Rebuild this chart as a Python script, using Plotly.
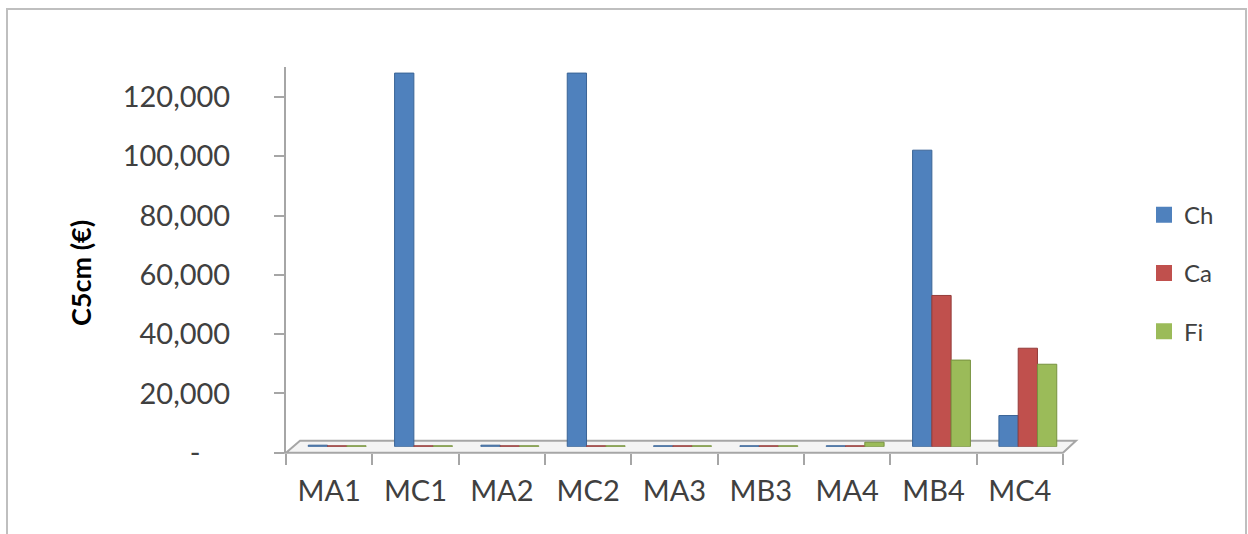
import plotly.graph_objects as go

categories = ["MA1", "MC1", "MA2", "MC2", "MA3", "MB3", "MA4", "MB4", "MC4"]
ch_values = [500, 126000, 500, 126000, 300, 300, 300, 100000, 10500]
ca_values = [300, 300, 300, 300, 300, 300, 300, 51000, 33200]
fi_values = [300, 300, 300, 300, 300, 300, 1500, 29200, 27800]
series_names = ["Ch", "Ca", "Fi"]
y_tick_vals = [0, 20000, 40000, 60000, 80000, 100000, 120000]
y_tick_text = ["-\u00a0\u00a0\u00a0\u00a0", "20,000", "40,000", "60,000", "80,000", "100,000", "120,000"]
y_title = "C5cm (€)"

W, H = 1248, 552
S = 534 / H  # vertical factor between figure pixels and captured picture
colors = ["#4F81BD", "#C0504D", "#9BBB59"]
edge = ["#3A6496", "#943C3A", "#77923F"]
FONT = "Lato"

def px_x(p):
    return p / W

def px_y(p):
    return (H - p / S) / H

fig = go.Figure()

for name, vals, c, e in zip(series_names, [ch_values, ca_values, fi_values], colors, edge):
    fig.add_trace(go.Bar(
        x=categories, y=vals, name=name, xaxis="x2", yaxis="y2",
        marker=dict(color=c, line=dict(color=e, width=1)),
        showlegend=False,
    ))

for name, c in zip(series_names, colors):
    fig.add_trace(go.Scatter(
        x=[None], y=[None], mode="markers", name=name,
        marker=dict(symbol="square", size=16, color=c),
        legendgroup=name, showlegend=True,
    ))

# floor (3D base plane)
fig.add_shape(type="path",
              path=f"M {px_x(286)} {px_y(451)} L {px_x(300)} {px_y(439)} L {px_x(1076)} {px_y(439)} L {px_x(1063)} {px_y(451)} Z",
              xref="paper", yref="paper", line=dict(color="#A6A6A6", width=2),
              fillcolor="#F4F4F4", layer="below")
# outer chart frame
fig.add_shape(type="rect", xref="paper", yref="paper",
              x0=px_x(7), x1=px_x(1246), y0=px_y(560), y1=px_y(9),
              line=dict(color="#BFBFBF", width=2), layer="below")

# y-axis title
fig.add_annotation(text=f"<b>{y_title}</b>", xref="paper", yref="paper",
                   x=px_x(80), y=px_y(272), xanchor="center", yanchor="middle",
                   textangle=-90, showarrow=False,
                   font=dict(family=FONT, size=27, color="#000000"))

fig.update_layout(
    width=W, height=H,
    margin=dict(l=0, r=0, t=0, b=0),
    paper_bgcolor="white",
    plot_bgcolor="rgba(0,0,0,0)",
    barmode="group",
    bargap=0.33,
    bargroupgap=0.0,
    font=dict(family=FONT, color="#404040"),
    xaxis=dict(
        type="category", domain=[px_x(286), px_x(1063)], anchor="y",
        categoryorder="array", categoryarray=categories, range=[-0.5, 8.5],
        showgrid=False, zeroline=False, showline=False,
        ticks="outside", tickson="boundaries", ticklen=11, tickwidth=1.5, tickcolor="#A6A6A6",
        tickfont=dict(family=FONT, size=29, color="#404040"),
        ticklabelstandoff=18, tickangle=0,
    ),
    yaxis=dict(
        domain=[px_y(451), px_y(67)], anchor="x", range=[0, 130000],
        tickvals=y_tick_vals, ticktext=y_tick_text,
        showgrid=False, zeroline=False, showline=True, linecolor="#A6A6A6", linewidth=2,
        ticks="outside", ticklen=10, tickwidth=1.5, tickcolor="#A6A6A6",
        tickfont=dict(family=FONT, size=29, color="#404040"),
        ticklabelstandoff=38,
    ),
    xaxis2=dict(
        type="category", domain=[px_x(294), px_x(1071)], anchor="y2",
        categoryorder="array", categoryarray=categories, range=[-0.5, 8.5],
        visible=False,
    ),
    yaxis2=dict(
        domain=[px_y(445), px_y(61)], anchor="x2", range=[0, 130000],
        visible=False,
    ),
    legend=dict(
        x=px_x(1144), y=px_y(192), xanchor="left", yanchor="top",
        font=dict(family=FONT, size=24, color="#404040"),
        traceorder="grouped", tracegroupgap=24,
        bgcolor="rgba(0,0,0,0)",
    ),
)

post = (
    "document.body.style.margin='0';"
    "document.documentElement.style.overflow='hidden';"
    "document.body.style.overflow='hidden';"
    "var gd=document.getElementById('{plot_id}');"
    "gd.style.position='fixed';gd.style.top='0px';gd.style.left='0px';"
)

fig.write_html("out.html", config={"displayModeBar": False}, post_script=post)
